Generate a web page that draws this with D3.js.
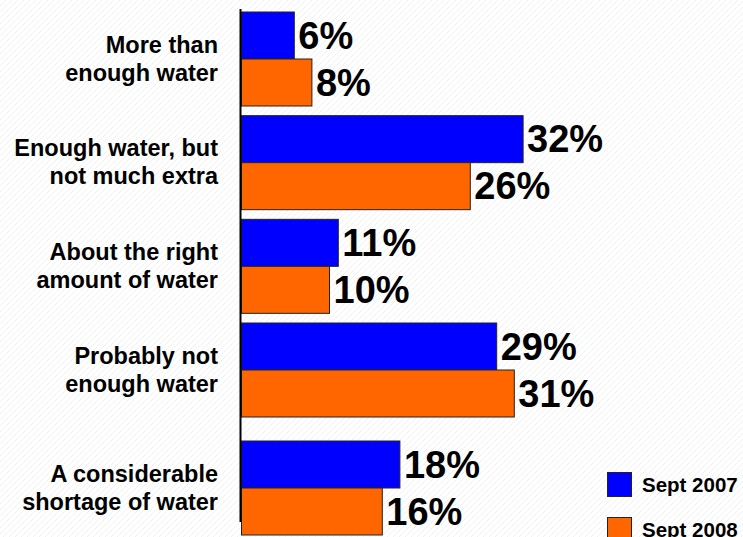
<!DOCTYPE html>
<html>
<head>
<meta charset="utf-8">
<script src="https://cdn.jsdelivr.net/npm/d3@7"></script>
<style>
  html, body { margin: 0; padding: 0; background: #ffffff; }
  svg { display: block; }
  text { font-family: "Liberation Sans", Arial, Helvetica, sans-serif; font-weight: bold; fill: #000; }
</style>
</head>
<body>
<svg id="chart" width="743" height="537"></svg>
<script>
// ---- data ----
const categories = [
  ["More than", "enough water"],
  ["Enough water, but", "not much extra"],
  ["About the right", "amount of water"],
  ["Probably not", "enough water"],
  ["A considerable", "shortage of water"]
];
const seriesNames = ["Sept 2007", "Sept 2008"];
const sept2007 = [6, 32, 11, 29, 18];
const sept2008 = [8, 26, 10, 31, 16];
const valueLabels2007 = ["6%", "32%", "11%", "29%", "18%"];
const valueLabels2008 = ["8%", "26%", "10%", "31%", "16%"];

// ---- layout ----
const W = 743, H = 537;
const colors = ["#0000FF", "#FF6600"];
const svg = d3.select("#chart");

// subtle background texture
const defs = svg.append("defs");
const pat = defs.append("pattern").attr("id", "tex")
  .attr("width", 6).attr("height", 6).attr("patternUnits", "userSpaceOnUse");
pat.append("rect").attr("width", 6).attr("height", 6).attr("fill", "#ffffff");
pat.append("path").attr("d", "M0,6 L6,0").attr("stroke", "#f1f1f1").attr("stroke-width", 1);
svg.append("rect").attr("width", W).attr("height", H).attr("fill", "url(#tex)");

const x0 = 241.5;
const x = d3.scaleLinear().domain([0, 50]).range([x0, x0 + 440]);

const idx = categories.map((d, i) => i);
// groups are evenly spaced, with an extra gap before the last category
const yGroup = d3.scaleLinear().domain([0, 3, 4]).range([12, 323, 441]);
const barH = 47;
const ySeries = d3.scaleBand().domain([0, 1]).range([0, 2 * barH]).padding(0);

const series = [sept2007, sept2008];
const seriesLabels = [valueLabels2007, valueLabels2008];

const g = svg.append("g");
series.forEach((vals, s) => {
  g.selectAll(null).data(idx).enter().append("rect")
    .attr("x", x(0))
    .attr("y", i => yGroup(i) + ySeries(s))
    .attr("width", i => x(vals[i]) - x(0))
    .attr("height", ySeries.bandwidth())
    .attr("fill", colors[s])
    .attr("stroke", "#222")
    .attr("stroke-width", 1);
  g.selectAll(null).data(idx).enter().append("text")
    .attr("x", i => x(vals[i]) + 4)
    .attr("y", i => yGroup(i) + ySeries(s) + barH / 2 + 13)
    .attr("font-size", 38)
    .text(i => seriesLabels[s][i]);
});

// axis line
svg.append("line")
  .attr("x1", 240.5).attr("x2", 240.5)
  .attr("y1", 9).attr("y2", 522)
  .attr("stroke", "#000").attr("stroke-width", 2);

// category labels
const catG = svg.append("g");
categories.forEach((lines, i) => {
  const cy = yGroup(i) + barH;
  const t = catG.append("text")
    .attr("text-anchor", "end")
    .attr("font-size", 23.5);
  lines.forEach((ln, k) => {
    t.append("tspan").attr("x", 218).attr("y", cy - 6.5 + k * 28).text(ln);
  });
});

// legend
const leg = svg.append("g");
seriesNames.forEach((name, s) => {
  const ly = 472 + s * 45;
  leg.append("rect").attr("x", 607.5).attr("y", ly + 0.5).attr("width", 24).attr("height", 24)
    .attr("fill", colors[s]).attr("stroke", "#222").attr("stroke-width", 1);
  leg.append("text").attr("x", 642).attr("y", ly + 20).attr("font-size", 20.5).text(name);
});
</script>
</body>
</html>
